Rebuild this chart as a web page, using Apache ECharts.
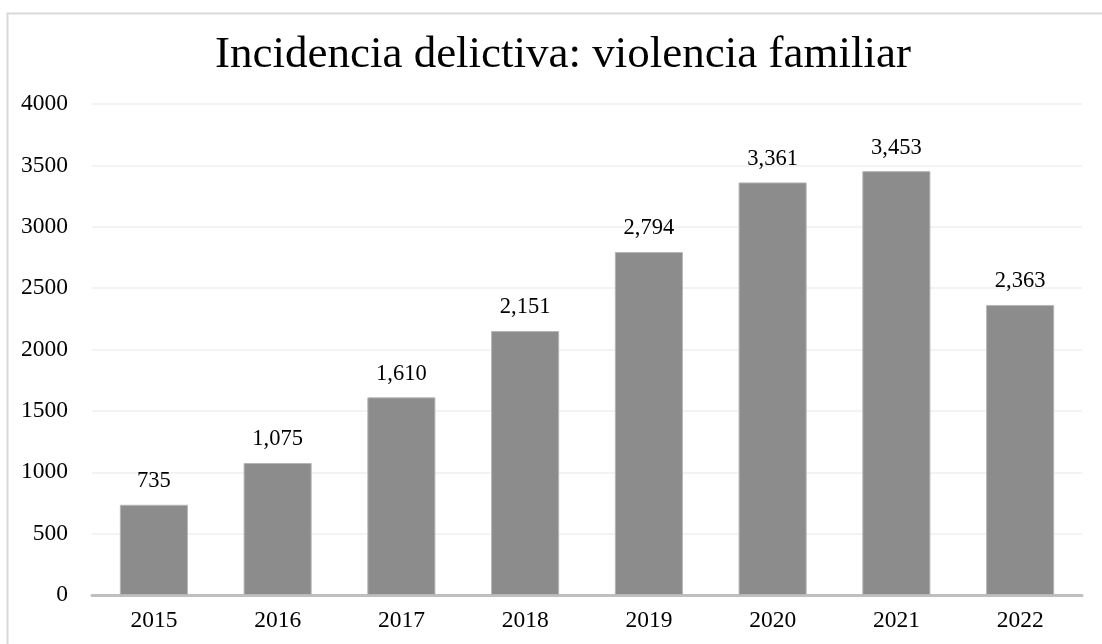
<!DOCTYPE html>
<html><head><meta charset="utf-8">
<script src="https://cdn.jsdelivr.net/npm/echarts@6/dist/echarts.min.js"></script>
<style>html,body{margin:0;padding:0;background:#fff}#c{width:1102px;height:644px}</style>
</head><body><div id="c"></div>
<script>
const title = 'Incidencia delictiva: violencia familiar';
const categories = ['2015','2016','2017','2018','2019','2020','2021','2022'];
const values = [735, 1075, 1610, 2151, 2794, 3361, 3453, 2363];
const yTicks = [0, 500, 1000, 1500, 2000, 2500, 3000, 3500, 4000];

const chart = echarts.init(document.getElementById('c'));
const font = '"Liberation Serif", "Times New Roman", serif';
chart.setOption({
  animation: false,
  backgroundColor: '#fff',
  title: {
    text: title, left: 210, top: 28,
    textStyle: { fontFamily: font, fontSize: 45, fontWeight: 'normal', color: '#000' }
  },
  graphic: [{
    type: 'rect', left: 5, top: 11, silent: true,
    shape: { width: 1120, height: 660 },
    style: { fill: 'none', stroke: '#d9d9d9', lineWidth: 2 }
  }],
  grid: { left: 92, right: 20, top: 104, bottom: 49, containLabel: false },
  xAxis: {
    type: 'category', data: categories,
    axisLine: { lineStyle: { color: '#bfbfbf', width: 3 } },
    axisTick: { show: false },
    axisLabel: { fontFamily: font, fontSize: 23.5, color: '#000', margin: 14 }
  },
  yAxis: {
    type: 'value', min: yTicks[0], max: yTicks[yTicks.length - 1], interval: yTicks[1] - yTicks[0],
    axisLine: { show: false }, axisTick: { show: false },
    splitLine: { lineStyle: { color: '#efefef', width: 1.5 } },
    axisLabel: { fontFamily: font, fontSize: 23.5, color: '#000', margin: 24, formatter: v => String(v) }
  },
  series: [{
    type: 'bar', data: values, barWidth: '55%',
    itemStyle: { color: '#8c8c8c', borderColor: '#b5b5b5', borderWidth: 1 },
    label: {
      show: true, position: 'top', distance: 12,
      fontFamily: font, fontSize: 22.5, color: '#000',
      formatter: p => p.value.toLocaleString('en-US')
    }
  }]
});
</script></body></html>
